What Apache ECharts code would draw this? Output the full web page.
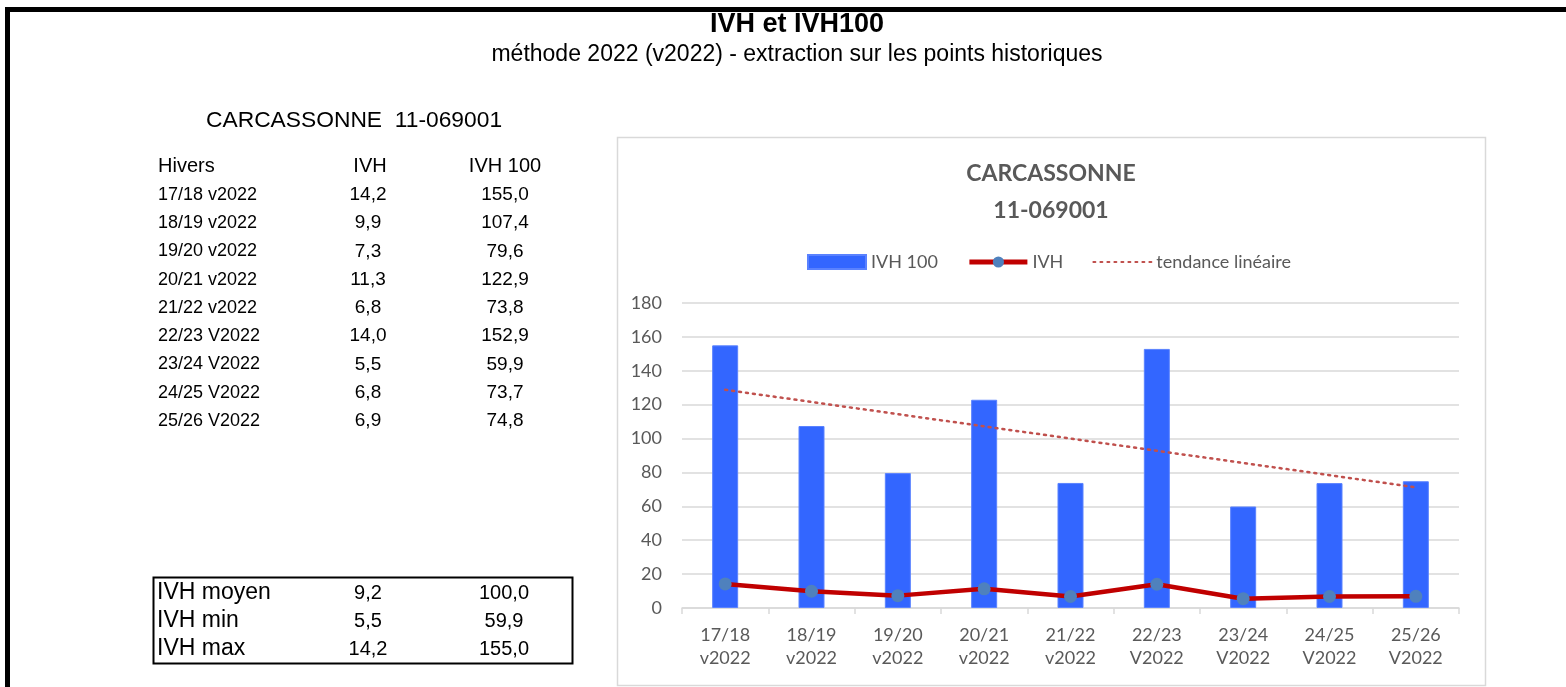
<!DOCTYPE html>
<html>
<head>
<meta charset="utf-8">
<script src="https://cdn.jsdelivr.net/npm/echarts@6/dist/echarts.min.js"></script>
<style>
  html, body { margin: 0; padding: 0; background: #fff; }
  #chart { width: 1566px; height: 687px; }
</style>
</head>
<body>
<div id="chart"></div>
<script>
var categories = ['17/18 v2022', '18/19 v2022', '19/20 v2022', '20/21 v2022', '21/22 v2022',
                  '22/23 V2022', '23/24 V2022', '24/25 V2022', '25/26 V2022'];
var ivh = [14.2, 9.9, 7.3, 11.3, 6.8, 14.0, 5.5, 6.8, 6.9];
var ivh100 = [155.0, 107.4, 79.6, 122.9, 73.8, 152.9, 59.9, 73.7, 74.8];
// tendance linéaire : extrémités
var trend = [128.8, null, null, null, null, null, null, null, 71.2];
var statLabels = ['IVH moyen', 'IVH min', 'IVH max'];
var statIvh = [9.2, 5.5, 14.2];
var statIvh100 = [100.0, 59.9, 155.0];
var yMin = 0, yMax = 180, yStep = 20;

function fmt(v) {
  return v.toFixed(1).replace('.', ',');
}

var arial = '"Liberation Sans", Arial, sans-serif';
var calibri = 'Lato, "Open Sans", sans-serif';

function txt(s, x, y, size, align, bold) {
  return {
    type: 'text',
    silent: true,
    z: 100,
    style: {
      text: s, x: x, y: y,
      font: (bold ? 'bold ' : '') + size + 'px ' + arial,
      fill: '#000',
      textAlign: align || 'left',
      textVerticalAlign: 'middle'
    }
  };
}

var graphics = [];
// cadre noir épais
graphics.push({ type: 'rect', silent: true, z: 50, shape: { x: 7.5, y: 9.5, width: 1600, height: 700 },
  style: { fill: 'none', stroke: '#000', lineWidth: 5 } });
// cadre du graphique
graphics.push({ type: 'rect', silent: true, shape: { x: 617.5, y: 137.5, width: 868, height: 548 },
  style: { fill: 'none', stroke: '#d9d9d9', lineWidth: 1.5 } });
// cadre des stats
graphics.push({ type: 'rect', silent: true, shape: { x: 153.5, y: 577.5, width: 419, height: 86 },
  style: { fill: 'none', stroke: '#000', lineWidth: 2 } });

graphics.push(txt('IVH et IVH100', 797, 25, 27, 'center', true));
graphics.push(txt('méthode 2022 (v2022) - extraction sur les points historiques', 797, 55, 23, 'center'));
graphics.push(txt('CARCASSONNE  11-069001', 206, 121, 22.8, 'left'));
graphics.push(txt('Hivers', 158, 166, 20, 'left'));
graphics.push(txt('IVH', 370, 166, 20, 'center'));
graphics.push(txt('IVH 100', 505, 166, 20, 'center'));

categories.forEach(function (c, i) {
  var y = 195 + i * 28.25;
  graphics.push(txt(c, 158, y, 18, 'left'));
  graphics.push(txt(fmt(ivh[i]), 368, y, 19, 'center'));
  graphics.push(txt(fmt(ivh100[i]), 505, y, 19, 'center'));
});

statLabels.forEach(function (s, i) {
  var y = 593 + i * 28;
  graphics.push(txt(s, 157, y, 23, 'left'));
  graphics.push(txt(fmt(statIvh[i]), 368, y, 20, 'center'));
  graphics.push(txt(fmt(statIvh100[i]), 504, y, 20, 'center'));
});

var myChart = echarts.init(document.getElementById('chart'));

var option = {
  animation: false,
  backgroundColor: '#fff',
  title: {
    text: 'CARCASSONNE\n11-069001',
    left: 1046,
    top: 150,
    textAlign: 'center',
    textStyle: {
      color: '#595959',
      fontFamily: calibri,
      fontWeight: 'bold',
      fontSize: 23,
      lineHeight: 37
    }
  },
  legend: {
    left: 802,
    top: 248,
    itemWidth: 58,
    itemHeight: 14,
    itemGap: 29,
    textStyle: { color: '#595959', fontFamily: calibri, fontSize: 18 },
    data: [
      { name: 'IVH 100', icon: 'rect' },
      { name: 'IVH', lineStyle: { width: 5 } },
      { name: 'tendance linéaire', itemStyle: { color: 'transparent', opacity: 0 } }
    ]
  },
  grid: {
    left: 682,
    right: 107,
    top: 303,
    bottom: 79
  },
  xAxis: {
    type: 'category',
    data: categories,
    axisLine: { lineStyle: { color: '#d9d9d9', width: 1.5 } },
    axisTick: { show: true, length: 6, lineStyle: { color: '#d9d9d9', width: 1.5 } },
    axisLabel: {
      color: '#595959',
      fontFamily: calibri,
      fontSize: 18,
      lineHeight: 23,
      margin: 16,
      formatter: function (v) { return v.replace(' ', '\n'); }
    }
  },
  yAxis: {
    type: 'value',
    min: yMin,
    max: yMax,
    interval: yStep,
    axisLine: { show: false },
    axisTick: { show: false },
    splitLine: { lineStyle: { color: '#d9d9d9', width: 1.5 } },
    axisLabel: { color: '#595959', fontFamily: calibri, fontSize: 18, margin: 20 }
  },
  series: [
    {
      name: 'IVH 100',
      type: 'bar',
      data: ivh100,
      barWidth: 26,
      itemStyle: { color: '#3366ff', borderColor: '#5a82ff', borderWidth: 1 }
    },
    {
      name: 'IVH',
      type: 'line',
      data: ivh,
      symbol: 'circle',
      symbolSize: 13,
      lineStyle: { color: '#c00000', width: 4.5 },
      itemStyle: { color: '#4f81bd' }
    },
    {
      name: 'tendance linéaire',
      type: 'line',
      data: trend,
      connectNulls: true,
      symbol: 'none',
      lineStyle: { color: '#c0504d', width: 2.5, type: [2, 5], cap: 'round' },
      itemStyle: { color: '#c0504d' }
    }
  ],
  graphic: graphics
};

myChart.setOption(option);
</script>
</body>
</html>
